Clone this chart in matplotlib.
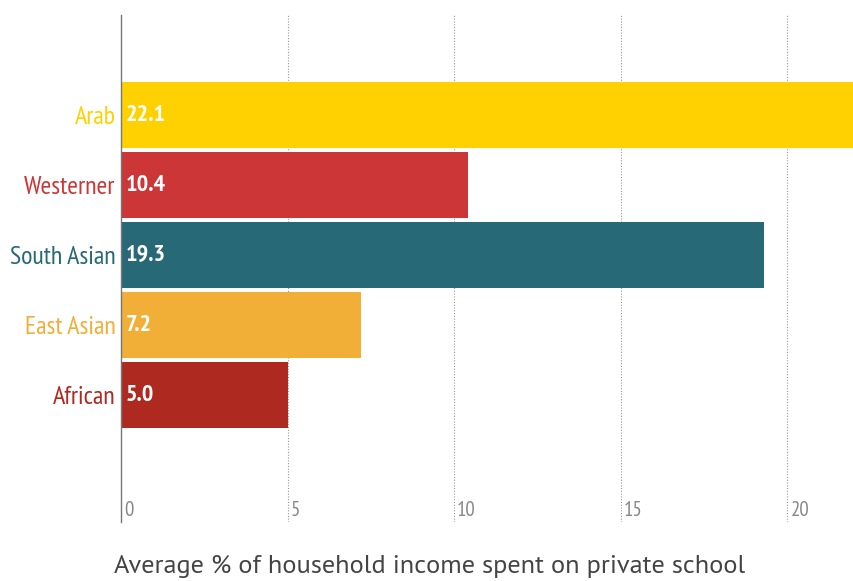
import matplotlib as mpl
mpl.use('Agg')

import matplotlib.pyplot as plt
import matplotlib.transforms as mtransforms
from matplotlib import font_manager

groups = ['Arab', 'Westerner', 'South Asian', 'East Asian', 'African']
spend = [22.1, 10.4, 19.3, 7.2, 5.0]
colours = ['#FFD100', '#CC3636', '#286977', '#F1AF38', '#AE2A21']
xticks = [0, 5, 10, 15, 20]

installed = {f.name for f in font_manager.fontManager.ttflist}


def pick(*fams):
    for f in fams:
        if f in installed:
            return f
    return 'DejaVu Sans'


narrow = pick('PT Sans Narrow', 'Roboto Condensed', 'Open Sans Condensed', 'Liberation Sans Narrow')
regular = pick('PT Sans', 'Lato')
plt.rcParams['font.family'] = [narrow, 'DejaVu Sans']

fig = plt.figure(figsize=(8.54, 5.81), dpi=100)
ax = fig.add_axes([0.1417, 0.1015, 0.8583, 0.8727])

pos = list(range(len(groups)))
ax.barh(pos, spend, height=0.94, color=colours, zorder=2)

ax.set_xlim(0, 22)
ax.set_ylim(5.81, -1.43)

# dotted guides, solid zero line
ax.set_xticks(xticks)
for t in xticks[1:]:
    ax.axvline(t, color='#999999', linestyle=(0, (1, 1.5)), linewidth=0.8, zorder=1)
for s in ['top', 'right', 'bottom']:
    ax.spines[s].set_visible(False)
ax.spines['left'].set_color('#777777')
ax.spines['left'].set_linewidth(1.0)

# tick numbers sit inside the plot, just right of each guide
ax.tick_params(axis='x', length=0, pad=-15, labelsize=15, labelcolor='#888888')
shift = mtransforms.ScaledTranslation(3 / 100, 0, fig.dpi_scale_trans)
for lbl in ax.get_xticklabels():
    lbl.set_ha('left')
    lbl.set_transform(lbl.get_transform() + shift)

ax.set_yticks(pos)
ax.set_yticklabels(groups, fontsize=18.7)
ax.tick_params(axis='y', length=0, pad=4)
for lbl, c in zip(ax.get_yticklabels(), colours):
    lbl.set_color(c)

for p, v in zip(pos, spend):
    ax.text(0.15, p, f'{v:.1f}', color='white', fontsize=17.5, fontweight='bold',
            va='center', ha='left', zorder=3)

fig.text(0.5025, 0.013, 'Average % of household income spent on private school',
         ha='center', va='baseline', fontsize=19, color='#444444',
         family=[regular, 'DejaVu Sans'])

fig.savefig('out.png', dpi=100, facecolor='white')
